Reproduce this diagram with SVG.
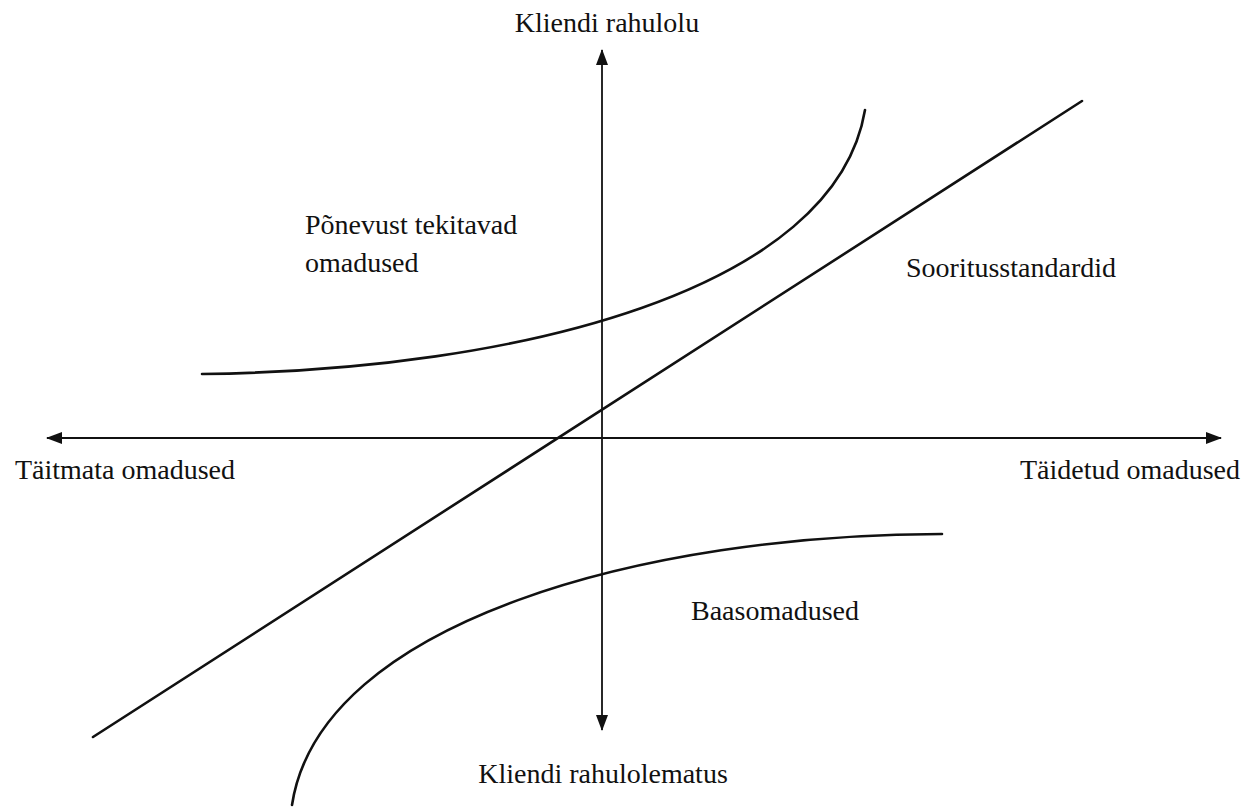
<svg xmlns="http://www.w3.org/2000/svg" width="1253" height="812" viewBox="0 0 1253 812">
  <style>
    .lbl { font-family: "Liberation Serif", "Times New Roman", serif; font-size: 28px; fill: #111; }
    .axis { stroke: #111; stroke-width: 1.8; fill: none; }
    .curve { stroke: #111; stroke-width: 2.6; fill: none; stroke-linecap: round; }
  </style>
  <defs>
    <marker id="arrow" viewBox="0 0 16 12" refX="15" refY="6" markerWidth="16" markerHeight="12" markerUnits="userSpaceOnUse" orient="auto-start-reverse">
      <path d="M0,0 L16,6 L0,12 Z" fill="#111"/>
    </marker>
  </defs>
  <rect width="1253" height="812" fill="#fff"/>

  <g id="connectors">
    <!-- axes, arrowed at both ends -->
    <line class="axis" x1="602" y1="50" x2="602" y2="730" marker-start="url(#arrow)" marker-end="url(#arrow)"/>
    <line class="axis" x1="47" y1="438" x2="1221" y2="438" marker-start="url(#arrow)" marker-end="url(#arrow)"/>
    <!-- performance line -->
    <line class="curve" x1="93" y1="737" x2="1082" y2="101"/>
    <!-- excitement curve -->
    <path class="curve" d="M202,374 C520,370 835,290 865,110"/>
    <!-- basic curve -->
    <path class="curve" d="M942,534 C650,534 320,620 292,805"/>
  </g>

  <g id="label-satisfaction"><text class="lbl" x="607" y="32" text-anchor="middle">Kliendi rahulolu</text></g>
  <g id="label-dissatisfaction"><text class="lbl" x="603" y="783" text-anchor="middle">Kliendi rahulolematus</text></g>
  <g id="label-unfulfilled"><text class="lbl" x="15" y="479">Täitmata omadused</text></g>
  <g id="label-fulfilled"><text class="lbl" x="1240" y="479" text-anchor="end">Täidetud omadused</text></g>
  <g id="label-excitement">
    <text class="lbl" x="305" y="234">Põnevust tekitavad</text>
    <text class="lbl" x="305" y="272">omadused</text>
  </g>
  <g id="label-performance"><text class="lbl" x="906" y="277">Sooritusstandardid</text></g>
  <g id="label-basic"><text class="lbl" x="691" y="620">Baasomadused</text></g>
</svg>
